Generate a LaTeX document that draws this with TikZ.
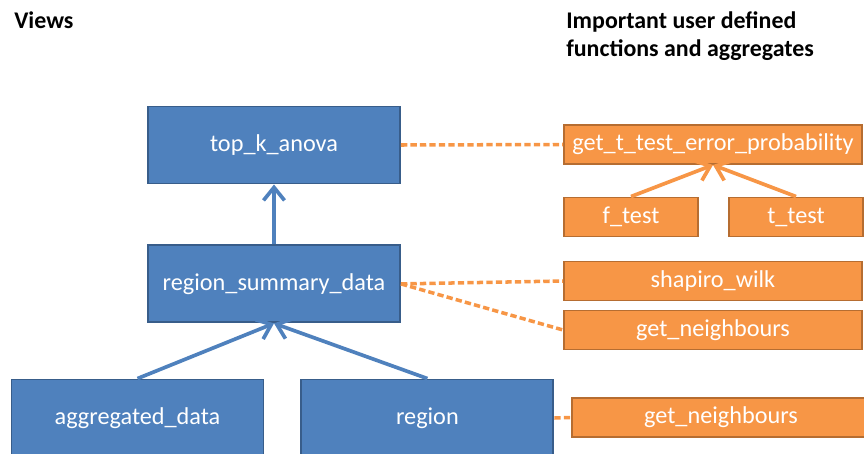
\documentclass[tikz,border=0pt]{standalone}
\usepackage{fontspec}
\setmainfont{Carlito}
\usepackage{xcolor}
\usepackage{tikz}
\usetikzlibrary{arrows.meta, positioning}

\definecolor{viewfill}{HTML}{4F81BD}
\definecolor{viewdraw}{HTML}{385D8A}
\definecolor{udffill}{HTML}{F79646}
\definecolor{udfdraw}{HTML}{B66D31}

\begin{document}
\begin{tikzpicture}[
  x=0.02cm, y=-0.02cm,
  node distance=1.2cm and 0.72cm,
  view/.style={rectangle, draw=viewdraw, fill=viewfill, line width=1.1pt,
             minimum width=5.04cm, minimum height=1.54cm, align=center,
             inner sep=0pt, text=white, font=\fontsize{13.8}{16}\selectfont},
  udf/.style={rectangle, draw=udfdraw, fill=udffill, line width=1.1pt,
             minimum width=5.96cm, minimum height=0.78cm, align=center,
             inner sep=0pt, text=white, font=\fontsize{13.8}{16}\selectfont},
  udfsmall/.style={udf, minimum width=2.68cm},
  heading/.style={font=\bfseries\fontsize{13.6}{16}\selectfont, align=left,
             anchor=north west, inner sep=0pt},
  dep/.style={-{Straight Barb[length=2.6mm, width=4.2mm]}, line width=2.1pt, color=viewfill},
  udfdep/.style={-{Straight Barb[length=2.6mm, width=4.2mm]}, line width=2.1pt, color=udffill},
  uses/.style={dashed, dash pattern=on 3.6pt off 1.8pt, line width=2pt, color=udffill}
]
\useasboundingbox (0,0) rectangle (864,453);

% headings
\node[heading] (viewshead) at (14,11) {Views};
\node[heading] (udfhead) at (566,11) {Important user defined\\functions and aggregates};

% views
\node[view] (topk) at (274,145) {top\_k\_anova};
\node[view, below=of topk] (summary) {region\_summary\_data};
\node[view] (aggr) at (137.5,418) {aggregated\_data};
\node[view, right=of aggr] (region) {region};

% functions and aggregates
\node[udf] (ttest) at (713,144.5) {get\_t\_test\_error\_probability};
\node[udfsmall] (ftest) at (631,217) {f\_test};
\node[udfsmall] (tt) at (796,217) {t\_test};
\node[udf] (shapiro) at (713,281) {shapiro\_wilk};
\node[udf] (neigh) at (713,330) {get\_neighbours};
\node[udf] (neighb) at (721,417.5) {get\_neighbours};

% view dependencies
\draw[dep] (summary) -- (topk);
\draw[dep] (aggr.north) -- (summary.south);
\draw[dep] (region.north) -- (summary.south);
\draw[udfdep] (ftest.north) -- (ttest.south);
\draw[udfdep] (tt.north) -- (ttest.south);

% functions used by views
\draw[uses] (topk.east) -- (ttest.west);
\draw[uses] (summary.east) -- (shapiro.west);
\draw[uses] (summary.east) -- (neigh.west);
\draw[uses] (region.east) -- (neighb.west);

\end{tikzpicture}
\end{document}
